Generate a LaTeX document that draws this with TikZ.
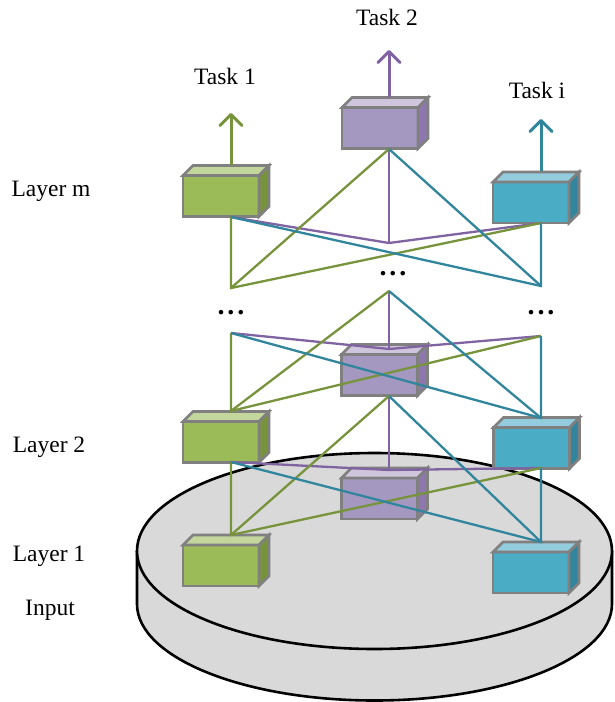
\documentclass[tikz,border=0pt]{standalone}
\usepackage{fontspec}
\setmainfont{Liberation Serif}
\usetikzlibrary{arrows.meta}

\definecolor{gfront}{HTML}{9BBB59}
\definecolor{gtop}{HTML}{C3D69B}
\definecolor{gside}{HTML}{77933C}
\definecolor{pfront}{HTML}{A598C0}
\definecolor{ptop}{HTML}{CFC6DD}
\definecolor{pside}{HTML}{8E77AE}
\definecolor{cfront}{HTML}{4BACC6}
\definecolor{ctop}{HTML}{93CDDD}
\definecolor{cside}{HTML}{31859C}
\definecolor{gline}{HTML}{77933C}
\definecolor{pline}{HTML}{8064A2}
\definecolor{cline}{HTML}{31859C}
\definecolor{edgegray}{HTML}{808080}
\definecolor{diskfill}{HTML}{D9D9D9}

\tikzset{
  cubefront/.style={draw=edgegray, line width=2.6pt, rectangle, minimum width=76pt,
    minimum height=41pt, inner sep=0pt, outer sep=0pt},
  cubeedge/.style={draw=edgegray, line width=2.6pt, line join=miter},
  link/.style={line width=2.3pt},
  gl/.style={link, draw=gline},
  pl/.style={link, draw=pline},
  cl/.style={link, draw=cline},
  taskarrow/.style={line width=3pt, -{Straight Barb[length=11pt,width=22pt,round]}},
  lbl/.style={font=\fontsize{23.5}{28}\selectfont, inner sep=0pt, anchor=base},
  dots/.style={font=\fontsize{28}{32}\selectfont\bfseries, inner sep=0pt},
}

% cuboid: name, centre of front face, front, top and side colours
\newcommand\cuboid[5]{%
  \node[cubefront, fill=#3] (#1) at (#2) {};
  \filldraw[cubeedge, fill=#4] (#1.north west) -- ++(10,-10) -- ++(76,0) -- (#1.north east) -- cycle;
  \filldraw[cubeedge, fill=#5] (#1.north east) -- ++(10,-10) -- ++(0,41) -- (#1.south east) -- cycle;
}

\begin{document}
\begin{tikzpicture}[x=1pt, y=-1pt]
\useasboundingbox (0,0) rectangle (614,702);

% input disk
\path[fill=diskfill] (137,551) -- (137,604)
  arc[start angle=180, end angle=0, x radius=237.5, y radius=96.5] -- (612,551) -- cycle;
\draw[line width=2.6pt] (137,551) -- (137,604)
  arc[start angle=180, end angle=0, x radius=237.5, y radius=96.5] -- (612,551);
\draw[line width=2.6pt, fill=diskfill] (374.5,551) ellipse [x radius=237.5, y radius=98];

% cuboids, one per task and layer
\cuboid{g1}{221,565.5}{gfront}{gtop}{gside}
\cuboid{c1}{531,572.5}{cfront}{ctop}{cside}
\cuboid{p1}{379.5,498.5}{pfront}{ptop}{pside}
\cuboid{g2}{221,442}{gfront}{gtop}{gside}
\cuboid{c2}{531.5,448}{cfront}{ctop}{cside}
\cuboid{p2}{379.5,375}{pfront}{ptop}{pside}
\cuboid{gm}{221,196}{gfront}{gtop}{gside}
\cuboid{cm}{531,202.5}{cfront}{ctop}{cside}
\cuboid{pm}{380,128}{pfront}{ptop}{pside}

% connection points
\coordinate (g1t) at (231,535);  \coordinate (p1t) at (389,470);  \coordinate (c1t) at (541,542);
\coordinate (g2b) at (231,462);  \coordinate (p2b) at (389,396);  \coordinate (c2b) at (541,468);
\coordinate (g2t) at (231,411);  \coordinate (p2t) at (389,349);  \coordinate (c2t) at (541,418);
\coordinate (g3b) at (231,333);  \coordinate (p3b) at (389,291);  \coordinate (c3b) at (541,336);
\coordinate (g3t) at (231,288);  \coordinate (p3t) at (389,243);  \coordinate (c3t) at (541,286);
\coordinate (gmb) at (231,217);  \coordinate (pmb) at (389,149);  \coordinate (cmb) at (541,223);

% layer 1 -> layer 2
\draw[pl] (g2b) -- (p1t) -- (c2b);  \draw[pl] (p1t) -- (p2b);
\draw[gl] (g2b) -- (g1t) -- (c2b);  \draw[gl] (g1t) -- (p2b);
\draw[cl] (g2b) -- (c1t) -- (c2b);  \draw[cl] (c1t) -- (p2b);

% layer 2 -> hidden layers
\draw[pl] (g3b) -- (p2t) -- (c3b);  \draw[pl] (p2t) -- (p3b);
\draw[gl] (g3b) -- (g2t) -- (c3b);  \draw[gl] (g2t) -- (p3b);
\draw[cl] (g3b) -- (c2t) -- (c3b);  \draw[cl] (c2t) -- (p3b);

% hidden layers -> layer m
\draw[pl] (gmb) -- (p3t) -- (cmb);  \draw[pl] (p3t) -- (pmb);
\draw[gl] (gmb) -- (g3t) -- (cmb);  \draw[gl] (g3t) -- (pmb);
\draw[cl] (gmb) -- (c3t) -- (cmb);  \draw[cl] (c3t) -- (pmb);

% task outputs
\coordinate (gmt) at (231,165);  \coordinate (ga) at (231,113);
\coordinate (pmt) at (389,97);   \coordinate (pa) at (389,50);
\coordinate (cmt) at (541,171);  \coordinate (ca) at (541,119);
\draw[taskarrow, gline] (gmt) -- (ga);
\draw[taskarrow, pline] (pmt) -- (pa);
\draw[taskarrow, cline] (cmt) -- (ca);

% ellipsis marks
\node[dots] (dl) at (231,313) {.\hspace{3pt}.\hspace{3pt}.};
\node[dots] (dr) at (541,313) {.\hspace{3pt}.\hspace{3pt}.};
\node[dots] (dc) at (393,274) {.\hspace{3pt}.\hspace{3pt}.};

% labels
\node[lbl] (t1) at (225,84) {Task 1};
\node[lbl] (t2) at (387,25) {Task 2};
\node[lbl] (ti) at (537,98) {Task i};
\node[lbl] (lm) at (51,196) {Layer m};
\node[lbl] (l2) at (49,452) {Layer 2};
\node[lbl] (l1) at (49,561) {Layer 1};
\node[lbl] (in) at (50,615) {Input};
\end{tikzpicture}
\end{document}
